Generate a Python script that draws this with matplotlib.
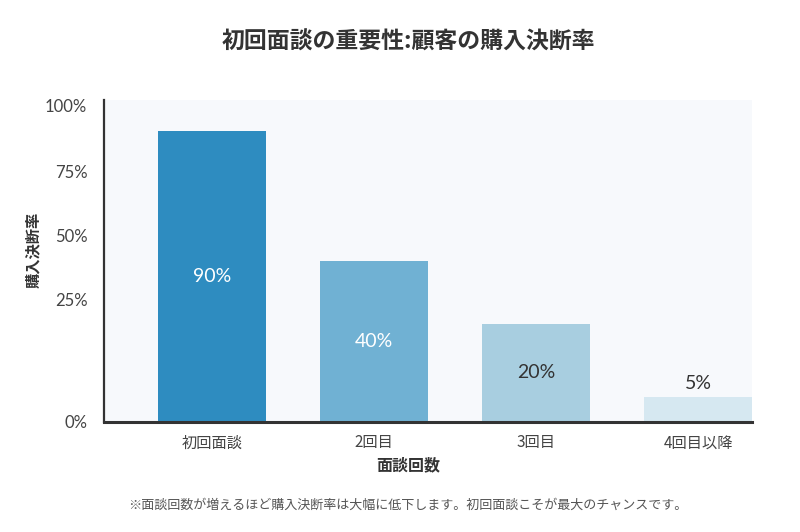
import numpy as np
import matplotlib
matplotlib.use("Agg")
import matplotlib.pyplot as plt

plt.rcParams["font.family"] = ["Noto Sans CJK JP", "DejaVu Sans"]

# data
categories = ["初回面談", "2回目", "3回目", "4回目以降"]
rates = [90, 40, 20, 5]
y_ticks = [0, 25, 50, 75, 100]
y_tick_labels = ["0%", "25%", "50%", "75%", "100%"]

title = "初回面談の重要性:顧客の購入決断率"
x_label = "面談回数"
y_label = "購入決断率"
footnote = "※面談回数が増えるほど購入決断率は大幅に低下します。初回面談こそが最大のチャンスです。"

# style
bar_colors = ["#2e8cc0", "#70b1d3", "#a8cee0", "#d6e8f1"]
label_colors = ["white", "white", "#333333", "#333333"]
bg = "#f7f9fc"
num_font = ["Lato", "DejaVu Sans"]

# the reference axis is not evenly spaced: the 0-25 band is taller than the others
knot_vals = np.array([0, 25, 50, 75, 100, 200], dtype=float)
knot_pos = np.array([0, 123, 187, 251, 317, 581], dtype=float)


def fwd(v):
    return np.interp(v, knot_vals, knot_pos)


def inv(p):
    return np.interp(p, knot_pos, knot_vals)


fig = plt.figure(figsize=(8, 5.32), dpi=100)
fig.patch.set_facecolor("white")
ax = fig.add_axes([0.13, 1 - 422 / 532, 0.81, 322 / 532])
ax.set_facecolor(bg)
ax.set_yscale("function", functions=(fwd, inv))

x = np.arange(len(categories))
bars = ax.bar(x, rates, width=0.667, color=bar_colors, zorder=2)

for i, (b, r) in enumerate(zip(bars, rates)):
    xc = b.get_x() + b.get_width() / 2
    if r >= 10:
        ymid = inv(fwd(r) / 2)
        ax.text(xc, ymid, f"{r}%", ha="center", va="center", fontsize=14,
                family=num_font, color=label_colors[i], zorder=3)
    else:
        ax.annotate(f"{r}%", (xc, r), xytext=(0, 4), textcoords="offset points",
                    ha="center", va="bottom", fontsize=14, family=num_font,
                    color=label_colors[i])

ax.set_xlim(-0.667, 3.333)
ax.set_ylim(0, inv(322))
ax.set_yticks(y_ticks)
ax.set_yticklabels(y_tick_labels, family=num_font, fontsize=12)
ax.set_xticks(x)
ax.set_xticklabels(categories, fontsize=11)
ax.tick_params(axis="both", length=0, colors="#444444")
ax.tick_params(axis="y", pad=12)
ax.tick_params(axis="x", pad=9)

for s in ["top", "right"]:
    ax.spines[s].set_visible(False)
ax.spines["left"].set_color("#333333")
ax.spines["left"].set_linewidth(1.6)
ax.spines["bottom"].set_color("#333333")
ax.spines["bottom"].set_linewidth(2.2)

fig.text(0.51, 1 - 42 / 532, title, ha="center", va="center", fontsize=16.5,
         fontweight="bold", color="#333333")
fig.text(0.51, 1 - 465 / 532, x_label, ha="center", va="center", fontsize=11.5,
         fontweight="bold", color="#333333")
fig.text(33 / 800, 1 - 250 / 532, y_label, ha="center", va="center", rotation=90,
         fontsize=11, fontweight="bold", color="#333333")
fig.text(0.51, 1 - 505 / 532, footnote, ha="center", va="center", fontsize=9.4,
         color="#555555")

fig.savefig("out.png", dpi=100, facecolor="white")
